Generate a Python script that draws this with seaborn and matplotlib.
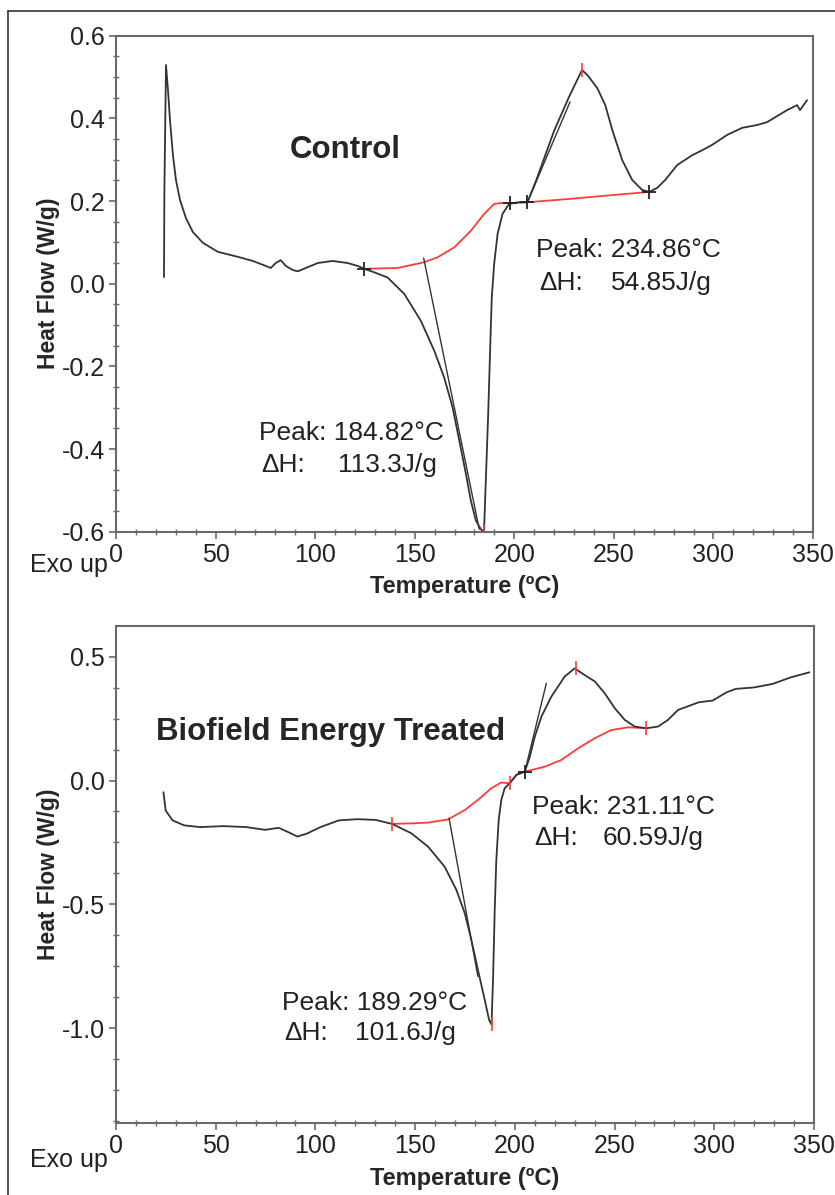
import numpy as np
import pandas as pd
import matplotlib
matplotlib.use('Agg')
import matplotlib.pyplot as plt
import seaborn as sns
from matplotlib.ticker import MultipleLocator
from matplotlib.lines import Line2D

# ---- control sample (DSC trace) ----
ctrl_temp = [24.1, 24.3, 25.1, 26.1, 27.1, 28.6, 30.1, 32.1, 35.1, 38.6, 43.6, 51.2,
             61.2, 68.7, 75.2, 77.7, 80.2, 82.7, 85.3, 88.8, 91.3, 96.3, 101.3, 108.8,
             116.3, 121.4, 124.7, 130.0, 136.4, 144.8, 153.1, 159.8, 164.8, 169.0, 172.4,
             175.7, 178.2, 180.7, 183.2, 184.8, 185.7, 186.9, 187.9, 188.7, 189.9, 191.6,
             194.1, 197.4, 202.0, 206.6, 211.0, 220.0, 227.4, 234.0, 236.7, 241.7, 245.7,
             249.2, 254.2, 259.2, 264.2, 267.8, 271.8, 275.8, 281.8, 289.4, 294.4, 299.4,
             306.9, 314.4, 322.0, 327.0, 337.0, 342.0, 343.5, 347.0]
ctrl_flow = [0.016, 0.227, 0.529, 0.469, 0.396, 0.311, 0.251, 0.203, 0.159, 0.125, 0.099,
             0.077, 0.065, 0.055, 0.043, 0.038, 0.050, 0.057, 0.043, 0.033, 0.030, 0.040,
             0.050, 0.055, 0.050, 0.043, 0.036, 0.027, 0.015, -0.025, -0.090, -0.162,
             -0.227, -0.299, -0.380, -0.460, -0.525, -0.573, -0.594, -0.600, -0.477,
             -0.315, -0.154, -0.033, 0.048, 0.120, 0.169, 0.193, 0.197, 0.197, 0.250,
             0.370, 0.451, 0.517, 0.505, 0.473, 0.432, 0.372, 0.299, 0.251, 0.227, 0.222,
             0.232, 0.251, 0.287, 0.311, 0.323, 0.336, 0.360, 0.377, 0.384, 0.391, 0.420,
             0.432, 0.420, 0.444]
ctrl_base_temp = [124.7, 141.4, 154.8, 161.5, 169.9, 178.2, 184.9, 189.9, 193.2, 197.4,
                  206.6, 227.4, 250.6, 267.8]
ctrl_base_flow = [0.036, 0.038, 0.052, 0.064, 0.088, 0.128, 0.169, 0.193, 0.195, 0.195,
                  0.197, 0.205, 0.215, 0.222]
ctrl_tangents = [([154.5, 182.4], [0.062, -0.594]), ([206.6, 228.0], [0.197, 0.44])]
ctrl_marks_black = ([124.7, 197.7, 206.6, 267.8], [0.036, 0.195, 0.197, 0.222])
ctrl_marks_red = ([184.8, 234.0], [-0.60, 0.517])

# ---- biofield energy treated sample ----
trt_temp = [23.8, 24.9, 28.4, 34.2, 42.3, 53.9, 65.4, 74.7, 81.6, 86.3, 90.9, 95.5,
            102.5, 111.7, 121.0, 130.2, 138.4, 148.1, 156.5, 164.8, 170.7, 174.9, 178.2,
            181.5, 184.9, 187.1, 188.3, 189.1, 189.9, 190.7, 191.9, 193.2, 194.9, 197.4,
            200.8, 205.0, 207.5, 210.0, 213.3, 218.3, 225.0, 230.0, 235.0, 240.1, 245.1,
            250.1, 255.1, 260.1, 265.9, 271.8, 276.8, 281.8, 292.2, 299.2, 306.1, 310.7,
            320.0, 329.2, 338.5, 347.7]
trt_flow = [-0.047, -0.121, -0.161, -0.181, -0.188, -0.184, -0.188, -0.199, -0.191, -0.208,
            -0.226, -0.215, -0.188, -0.161, -0.156, -0.159, -0.175, -0.213, -0.267, -0.348,
            -0.442, -0.536, -0.644, -0.765, -0.886, -0.967, -0.985, -0.792, -0.523, -0.321,
            -0.159, -0.078, -0.031, -0.011, 0.023, 0.036, 0.096, 0.177, 0.258, 0.339, 0.420,
            0.453, 0.426, 0.400, 0.352, 0.292, 0.245, 0.218, 0.211, 0.218, 0.245, 0.285,
            0.316, 0.323, 0.356, 0.370, 0.376, 0.390, 0.417, 0.437]
trt_base_temp = [138.4, 148.1, 156.5, 166.5, 174.9, 181.5, 188.2, 193.2, 197.4, 200.8,
                 205.0, 215.0, 223.3, 231.7, 240.1, 248.4, 256.8, 265.9]
trt_base_flow = [-0.175, -0.173, -0.170, -0.157, -0.119, -0.078, -0.031, -0.008, -0.011,
                 0.023, 0.036, 0.056, 0.083, 0.130, 0.171, 0.204, 0.215, 0.211]
trt_tangents = [([167.0, 181.5], [-0.152, -0.792]), ([205.0, 215.8], [0.036, 0.393])]
trt_marks_black = ([205.0], [0.036])
trt_marks_red = ([138.4, 197.4, 265.9, 188.3, 230.5], [-0.175, -0.011, 0.211, -0.985, 0.453])

sns.set_style('white')
plt.rcParams['font.family'] = ['Liberation Sans', 'DejaVu Sans']
plt.rcParams['axes.unicode_minus'] = False

W, H = 835, 1195
fig = plt.figure(figsize=(W / 100, H / 100), dpi=100)


def px(x, y):
    return x / W, 1 - y / H


ax1 = fig.add_axes([116 / W, 1 - 531.7 / H, 697 / W, 496 / H])
ax2 = fig.add_axes([116 / W, 1 - 1123.3 / H, 698 / W, 497.3 / H])

ink = '#333333'
red = '#ff3b3b'


def draw(ax, t, f, bt, bf, tangents, mk_black, mk_red):
    sns.lineplot(x=bt, y=bf, color=red, lw=1.3, sort=False, estimator=None, ax=ax)
    sns.lineplot(x=t, y=f, color=ink, lw=1.3, sort=False, estimator=None, ax=ax)
    for tx, ty in tangents:
        sns.lineplot(x=tx, y=ty, color=ink, lw=1.0, sort=False, estimator=None, ax=ax)
    ax.plot(mk_black[0], mk_black[1], ls='none', marker='+', ms=10, mew=1.3, color='#222222')
    ax.plot(mk_red[0], mk_red[1], ls='none', marker='|', ms=10, mew=1.2, color=red)
    ax.set_xlim(0, 350)
    ax.xaxis.set_major_locator(MultipleLocator(50))
    ax.xaxis.set_minor_locator(MultipleLocator(10))
    for s in ax.spines.values():
        s.set_color('#6a6a6a')
        s.set_linewidth(1.5)
    ax.tick_params(which='major', direction='out', length=5, width=1.2, color='#6a6a6a',
                   labelsize=18, labelcolor='#222222', pad=3)
    ax.tick_params(which='minor', direction='inout', length=5, width=1.0, color='#6a6a6a')
    ax.tick_params(axis='both', which='both', bottom=True, left=True)
    ax.set_xlabel('Temperature (ºC)', fontsize=17, fontweight='bold', labelpad=6)
    ax.set_ylabel('Heat Flow (W/g)', fontsize=16.5, fontweight='bold', labelpad=1)


draw(ax1, ctrl_temp, ctrl_flow, ctrl_base_temp, ctrl_base_flow, ctrl_tangents,
     ctrl_marks_black, ctrl_marks_red)
ax1.set_ylim(-0.6, 0.6)
ax1.yaxis.set_major_locator(MultipleLocator(0.2))
ax1.yaxis.set_minor_locator(MultipleLocator(0.05))

draw(ax2, trt_temp, trt_flow, trt_base_temp, trt_base_flow, trt_tangents,
     trt_marks_black, trt_marks_red)
ax2.set_ylim(-1.384, 0.624)
ax2.yaxis.set_major_locator(MultipleLocator(0.5))
ax2.yaxis.set_minor_locator(MultipleLocator(0.125))

fs = 19
# annotations, control
ax1.text(115.2, 0.3235, 'Control', fontsize=22.5, fontweight='bold', ha='center', va='center')
ax1.text(210.7, 0.0815, 'Peak: 234.86°C', fontsize=fs, va='center', color='#222222')
ax1.text(212.5, 0.001, 'ΔH:', fontsize=fs, va='center', color='#222222')
ax1.text(248.4, 0.001, '54.85J/g', fontsize=fs, va='center', color='#222222')
ax1.text(71.6, -0.362, 'Peak: 184.82°C', fontsize=fs, va='center', color='#222222')
ax1.text(73.0, -0.439, 'ΔH:', fontsize=fs, va='center', color='#222222')
ax1.text(111.7, -0.439, '113.3J/g', fontsize=fs, va='center', color='#222222')

# annotations, treated
ax2.text(107.7, 0.197, 'Biofield Energy Treated', fontsize=22.5, fontweight='bold',
         ha='center', va='center')
ax2.text(208.4, -0.105, 'Peak: 231.11°C', fontsize=fs, va='center', color='#222222')
ax2.text(209.7, -0.233, 'ΔH:', fontsize=fs, va='center', color='#222222')
ax2.text(243.8, -0.233, '60.59J/g', fontsize=fs, va='center', color='#222222')
ax2.text(83.2, -0.897, 'Peak: 189.29°C', fontsize=fs, va='center', color='#222222')
ax2.text(84.6, -1.020, 'ΔH:', fontsize=fs, va='center', color='#222222')
ax2.text(119.8, -1.020, '101.6J/g', fontsize=fs, va='center', color='#222222')

for yy in (565, 1160):
    x0, y0 = px(30, yy)
    fig.text(x0, y0, 'Exo up', fontsize=18, va='center', ha='left', color='#222222')

# outer frame (left and top edges visible)
x0, y0 = px(8, 10.5)
fig.add_artist(Line2D([x0, 1.0], [y0, y0], color='#333333', lw=1.2))
fig.add_artist(Line2D([x0, x0], [y0, 0.0], color='#333333', lw=1.2))

fig.savefig('out.png', dpi=100)
